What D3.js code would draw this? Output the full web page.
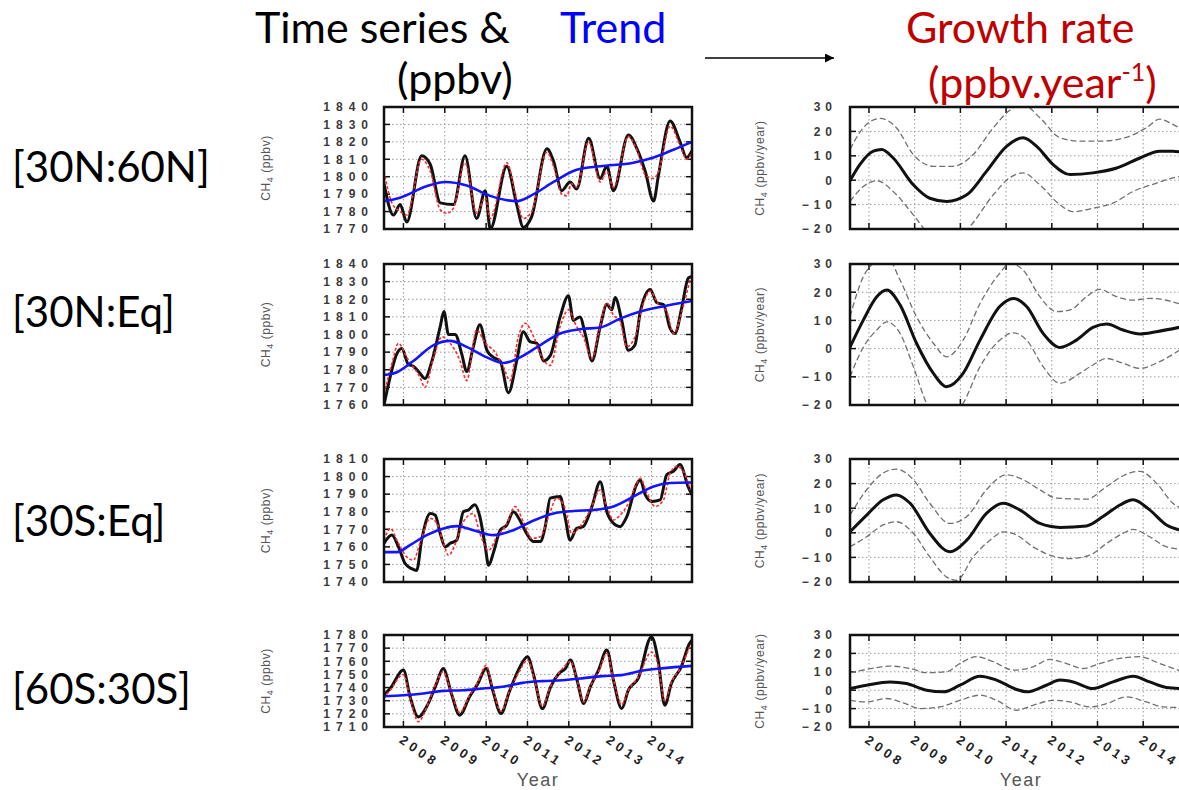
<!DOCTYPE html>
<meta charset="utf-8" />
<html>
<head>
<script src="https://d3js.org/d3.v7.min.js"></script>
<style>
  body { margin: 0; background: white; }
  svg { display: block; }
</style>
</head>
<body>
<div id="chart"></div>
<script>
// ---- data ----
const years = [2008, 2009, 2010, 2011, 2012, 2013, 2014];
const regions = ["[30N:60N]", "[30N:Eq]", "[30S:Eq]", "[60S:30S]"];
const tsDomains = [[1770, 1840], [1760, 1840], [1740, 1810], [1710, 1780]];
const grDomain = [-20, 30];
const grTicks = [-20, -10, 0, 10, 20, 30];

// [30N:60N]
const nhMidObs = [[2007.53,1796],[2007.76,1778],[2007.92,1784],[2008.08,1774],[2008.44,1812],[2008.65,1807],[2008.89,1785],[2009.21,1784],[2009.49,1812],[2009.77,1776],[2009.98,1792],[2010.10,1770],[2010.50,1806],[2010.74,1784],[2010.90,1771],[2011.10,1777],[2011.47,1816],[2011.63,1809],[2011.83,1792],[2012.03,1797],[2012.19,1793],[2012.48,1822],[2012.76,1799],[2012.92,1806],[2013.08,1792],[2013.44,1824],[2013.65,1816],[2013.85,1803],[2014.05,1786],[2014.17,1801],[2014.45,1832],[2014.69,1820],[2014.85,1811],[2014.98,1815]];
const nhMidMod = [[2007.53,1803],[2007.72,1785],[2007.92,1780],[2008.08,1778],[2008.44,1810],[2008.65,1803],[2008.89,1781],[2009.05,1779],[2009.21,1782],[2009.49,1808],[2009.77,1779],[2009.98,1788],[2010.10,1776],[2010.50,1808],[2010.74,1787],[2010.90,1776],[2011.10,1780],[2011.47,1814],[2011.63,1806],[2011.83,1790],[2011.95,1789],[2012.07,1796],[2012.19,1794],[2012.48,1820],[2012.76,1797],[2012.92,1803],[2013.08,1794],[2013.44,1823],[2013.65,1815],[2013.85,1801],[2014.05,1799],[2014.17,1803],[2014.45,1829],[2014.69,1818],[2014.85,1810],[2014.98,1814]];
const nhMidTrend = [[2007.53,1786],[2007.92,1788],[2008.56,1794.5],[2009.01,1797],[2009.53,1795],[2010.10,1789],[2010.74,1786],[2011.15,1790],[2011.63,1797],[2012.19,1804],[2012.76,1806],[2013.56,1808],[2014.05,1811],[2014.53,1815.5],[2014.98,1820]];

// [30N:Eq]
const nhTropObs = [[2007.53,1760],[2007.64,1772],[2007.84,1789],[2007.96,1792],[2008.12,1783],[2008.24,1782],[2008.40,1778],[2008.52,1775],[2008.69,1785],[2008.89,1804.5],[2008.98,1813],[2009.09,1800],[2009.25,1800],[2009.41,1789],[2009.53,1779],[2009.69,1793],[2009.85,1805.5],[2010.02,1791],[2010.18,1787],[2010.34,1785],[2010.54,1767],[2010.74,1785],[2010.90,1801.6],[2011.06,1796],[2011.23,1795],[2011.39,1785],[2011.55,1788],[2011.79,1810],[2011.99,1822],[2012.11,1808],[2012.27,1810],[2012.40,1800],[2012.56,1785],[2012.76,1804.5],[2012.92,1817],[2013.04,1814],[2013.12,1821],[2013.28,1808],[2013.44,1791],[2013.60,1794],[2013.73,1813],[2013.97,1825.6],[2014.13,1818],[2014.29,1817],[2014.45,1803.5],[2014.57,1800.6],[2014.73,1815],[2014.89,1832],[2014.98,1833]];
const nhTropMod = [[2007.53,1766],[2007.72,1783.4],[2007.88,1795],[2008.08,1787],[2008.40,1775.7],[2008.52,1770],[2008.73,1787],[2008.93,1798.7],[2009.13,1795],[2009.37,1785],[2009.53,1773.8],[2009.77,1802.6],[2009.98,1795],[2010.18,1791],[2010.42,1781.5],[2010.58,1773.8],[2010.78,1798.7],[2010.94,1806.4],[2011.15,1798.7],[2011.31,1789],[2011.55,1782.4],[2011.79,1804.5],[2011.99,1814],[2012.19,1804.5],[2012.35,1798.7],[2012.56,1786.3],[2012.72,1800.6],[2012.92,1818],[2013.08,1811],[2013.24,1807.4],[2013.40,1793],[2013.60,1798.7],[2013.81,1818],[2013.97,1824.6],[2014.17,1817],[2014.37,1813],[2014.53,1800.6],[2014.77,1816],[2014.94,1832]];
const nhTropTrend = [[2007.53,1777],[2007.84,1778.6],[2008.24,1785],[2008.73,1794],[2009.13,1796.4],[2009.53,1793],[2010.02,1787],[2010.42,1783.8],[2010.82,1787],[2011.31,1794],[2011.79,1800.6],[2012.27,1803],[2012.76,1804],[2013.24,1809],[2013.73,1813],[2014.21,1815.6],[2014.98,1819]];

// [30S:Eq]
const shTropObs = [[2007.53,1762],[2007.72,1766.7],[2007.88,1760],[2008.04,1750.5],[2008.20,1747.6],[2008.32,1746.6],[2008.44,1763.8],[2008.65,1779],[2008.77,1778],[2008.89,1767.6],[2009.01,1760],[2009.13,1762],[2009.29,1763.8],[2009.45,1780],[2009.57,1781],[2009.73,1784],[2009.85,1777],[2009.98,1760],[2010.06,1749.5],[2010.18,1757],[2010.34,1769.5],[2010.50,1772.4],[2010.66,1780],[2010.82,1775],[2010.98,1767.6],[2011.15,1763],[2011.31,1763],[2011.43,1771.5],[2011.55,1787.7],[2011.79,1788.6],[2011.91,1777],[2012.03,1763.8],[2012.19,1770.5],[2012.35,1771.5],[2012.56,1783],[2012.76,1797],[2012.92,1780],[2013.08,1773.4],[2013.24,1771.5],[2013.40,1777],[2013.65,1796],[2013.73,1798],[2013.85,1789.6],[2014.01,1785.8],[2014.21,1786.7],[2014.37,1801],[2014.53,1803],[2014.69,1806.8],[2014.89,1794],[2014.98,1789.6]];
const shTropMod = [[2007.53,1763.8],[2007.69,1770.5],[2007.84,1763.8],[2008.08,1754.3],[2008.24,1752.4],[2008.40,1762],[2008.65,1776.2],[2008.81,1773.4],[2008.97,1762],[2009.09,1755.2],[2009.29,1763.8],[2009.45,1774.3],[2009.69,1779],[2009.85,1767.6],[2010.06,1758],[2010.26,1765.7],[2010.50,1773.4],[2010.70,1783],[2010.90,1774.3],[2011.10,1764.8],[2011.31,1765.7],[2011.51,1777.2],[2011.71,1787.7],[2011.91,1782],[2012.07,1767.6],[2012.27,1771.5],[2012.52,1781],[2012.76,1792.4],[2012.92,1783],[2013.08,1775.3],[2013.24,1778],[2013.40,1783],[2013.65,1796.3],[2013.73,1799],[2013.89,1790.5],[2014.09,1783],[2014.29,1786.7],[2014.45,1802],[2014.61,1805.8],[2014.77,1803],[2014.94,1792.4]];
const shTropTrend = [[2007.53,1757],[2007.84,1757],[2008.16,1761],[2008.56,1766.7],[2008.97,1770.5],[2009.29,1771.8],[2009.69,1769.5],[2010.18,1766.7],[2010.66,1769.5],[2011.15,1775],[2011.63,1779],[2012.11,1780.4],[2012.60,1781],[2013.08,1783],[2013.56,1788.6],[2014.05,1794.4],[2014.45,1796.3],[2014.98,1796.6]];

// [60S:30S]
const shMidObs = [[2007.52,1734.2],[2007.68,1739.3],[2008.00,1753.3],[2008.16,1733],[2008.36,1717.7],[2008.60,1727.8],[2008.80,1743],[2008.96,1754.6],[2009.16,1735.5],[2009.36,1719],[2009.60,1733],[2009.80,1743],[2010.00,1754.6],[2010.16,1738],[2010.36,1720.2],[2010.56,1736.7],[2010.80,1754.6],[2011.00,1763.5],[2011.16,1748.2],[2011.36,1724],[2011.56,1740.6],[2011.76,1750.7],[2011.92,1754.6],[2012.04,1761],[2012.20,1745.6],[2012.36,1727.8],[2012.52,1740.6],[2012.72,1753.3],[2012.92,1768.5],[2013.08,1745.6],[2013.28,1724],[2013.44,1738],[2013.68,1747],[2014.00,1778.7],[2014.16,1761],[2014.32,1726.6],[2014.48,1743],[2014.72,1755.8],[2014.92,1773.6],[2014.98,1776]];
const shMidMod = [[2007.52,1732],[2007.68,1738],[2008.00,1750],[2008.16,1732],[2008.36,1714],[2008.60,1728],[2008.80,1744],[2008.96,1752],[2009.16,1736],[2009.36,1721],[2009.60,1734],[2009.80,1744],[2010.00,1757],[2010.16,1739],[2010.36,1722],[2010.56,1737],[2010.80,1752],[2011.00,1761],[2011.16,1747],[2011.36,1726],[2011.56,1741],[2011.76,1751],[2011.92,1757],[2012.04,1760],[2012.20,1746],[2012.36,1729],[2012.52,1741],[2012.72,1752],[2012.92,1766],[2013.08,1746],[2013.28,1727],[2013.44,1738],[2013.68,1748],[2014.00,1767],[2014.16,1757],[2014.32,1730],[2014.48,1744],[2014.72,1756],[2014.92,1771]];
const shMidTrend = [[2007.52,1733.4],[2008.00,1734.2],[2008.48,1735.5],[2008.96,1737.5],[2009.44,1738],[2009.92,1739.3],[2010.40,1740.6],[2010.88,1743.6],[2011.36,1744.9],[2011.84,1745.6],[2012.32,1747],[2012.80,1748.7],[2013.28,1749.5],[2013.76,1752.8],[2014.24,1754.6],[2014.98,1756.5]];

// growth rates (ppbv/year): central estimate, upper and lower bounds
const grNhMid = [[2007.585,-0.2],[2007.80,6.4],[2008.095,11.9],[2008.28,12.6],[2008.53,9.1],[2008.97,-1.9],[2009.33,-7.4],[2009.70,-8.7],[2010.14,-6],[2010.57,3.6],[2011.01,13.9],[2011.37,17.4],[2011.67,13.9],[2012.03,6.4],[2012.40,2.3],[2012.90,3],[2013.42,5],[2013.93,9.1],[2014.36,11.9],[2014.65,11.9],[2014.98,11]];
const grNhMidHi = [[2007.585,12.6],[2007.876,21.5],[2008.24,25.3],[2008.60,21.5],[2008.97,10.5],[2009.41,5.7],[2009.84,5.7],[2010.28,10.5],[2010.72,21.5],[2011.16,29.7],[2011.37,31],[2011.74,25.6],[2012.18,17.4],[2012.61,16],[2013.05,16],[2013.63,17.6],[2014.07,21.5],[2014.36,25],[2014.65,22.9],[2014.98,19]];
const grNhMidLo = [[2007.585,-8.7],[2007.876,-2.6],[2008.17,-0.2],[2008.53,-4.6],[2008.97,-14.2],[2009.33,-22.5],[2009.70,-26],[2010.06,-22],[2010.21,-19],[2010.72,-6],[2011.08,1],[2011.37,3],[2011.74,-1.9],[2012.18,-10.1],[2012.47,-12.9],[2012.90,-11.5],[2013.34,-9.4],[2013.78,-4.6],[2014.29,-1.2],[2014.65,1],[2014.98,2]];

const grNhTrop = [[2007.585,0.5],[2007.876,10.1],[2008.17,18.4],[2008.39,20.8],[2008.68,15.5],[2009.04,1.9],[2009.41,-8.8],[2009.70,-13.5],[2010.06,-8.8],[2010.43,3],[2010.86,14.9],[2011.16,17.8],[2011.45,14.9],[2011.81,5.4],[2012.18,0.4],[2012.54,3],[2012.90,7.5],[2013.20,8.7],[2013.56,6.6],[2013.93,5.2],[2014.29,6],[2014.98,8.2]];
const grNhTropHi = [[2007.585,11.3],[2007.876,25.5],[2008.095,30.2],[2008.39,32.6],[2008.68,24.3],[2009.04,11.3],[2009.41,1.9],[2009.70,-2.9],[2010.06,3],[2010.43,16],[2010.86,26.7],[2011.08,30.2],[2011.37,27.9],[2011.74,18.4],[2012.10,13.1],[2012.40,13.7],[2012.76,18.4],[2013.05,21],[2013.42,18.4],[2013.78,17.2],[2014.14,17.8],[2014.98,15]];
const grNhTropLo = [[2007.585,-10],[2007.876,0.5],[2008.17,6.6],[2008.39,9.5],[2008.68,5.4],[2008.97,-6.4],[2009.26,-19.4],[2009.55,-26.5],[2010.06,-19.4],[2010.43,-6.4],[2010.86,3],[2011.16,5.6],[2011.45,3],[2011.81,-6.4],[2012.18,-12.3],[2012.61,-8.8],[2012.90,-5.8],[2013.20,-3.5],[2013.56,-5.2],[2013.93,-7],[2014.36,-4.6],[2014.98,1.5]];

const grShTrop = [[2007.585,0.4],[2007.95,7.2],[2008.31,13.4],[2008.60,15.4],[2008.90,12],[2009.33,-0.2],[2009.77,-7.7],[2010.14,-3],[2010.57,7.9],[2010.94,12],[2011.30,9.3],[2011.74,3.8],[2012.18,2.2],[2012.76,2.8],[2013.12,6.6],[2013.49,11.3],[2013.78,13.4],[2014.14,9.3],[2014.51,3.2],[2014.98,0.5]];
const grShTropHi = [[2007.585,7.2],[2007.95,17.5],[2008.31,24.3],[2008.60,25.9],[2008.97,21.6],[2009.33,12],[2009.77,3.8],[2010.14,6.6],[2010.57,17.5],[2011.01,23.6],[2011.37,21.6],[2011.74,17.5],[2012.10,14.1],[2012.76,13.7],[2013.20,18.8],[2013.56,23.2],[2013.93,25],[2014.29,20.2],[2014.65,12],[2014.98,9]];
const grShTropLo = [[2007.585,-5.7],[2007.95,-1.6],[2008.31,3.2],[2008.60,4.5],[2008.97,-0.2],[2009.33,-9.8],[2009.70,-18],[2009.92,-19.3],[2010.28,-9.8],[2010.65,-3],[2010.94,0.4],[2011.23,-0.9],[2011.59,-5.7],[2011.96,-9.1],[2012.40,-10.5],[2012.83,-9.1],[2013.20,-4.3],[2013.56,-0.2],[2013.78,1.4],[2014.14,-1.6],[2014.51,-5.7],[2014.98,-7]];

const grShMid = [[2007.585,0.9],[2007.95,2.7],[2008.46,4.5],[2008.82,3.6],[2009.26,0],[2009.63,-0.9],[2009.99,2.7],[2010.43,7.6],[2010.79,5.5],[2011.23,0.4],[2011.45,-0.9],[2011.88,2.7],[2012.18,5.5],[2012.47,4.5],[2012.90,0.9],[2013.34,4.5],[2013.78,7.6],[2014.14,4.5],[2014.51,1.5],[2014.98,0.8]];
const grShMidHi = [[2007.585,9.5],[2007.95,11.3],[2008.46,13.1],[2008.90,11.8],[2009.26,9.5],[2009.70,10],[2009.99,14.5],[2010.35,18.2],[2010.72,15.5],[2011.16,10.9],[2011.59,12.7],[2011.96,16.7],[2012.32,14.5],[2012.69,11.8],[2013.05,14.5],[2013.49,17.3],[2013.93,18.2],[2014.36,14.5],[2014.98,9]];
const grShMidLo = [[2007.585,-5.5],[2007.95,-6.4],[2008.39,-4.5],[2008.75,-6.9],[2009.12,-10],[2009.55,-9.1],[2009.99,-5.5],[2010.43,-2.7],[2010.79,-5.5],[2011.23,-10.9],[2011.59,-8.2],[2012.03,-5.5],[2012.40,-6.4],[2012.83,-9.1],[2013.20,-7.3],[2013.63,-3.6],[2014.07,-6.4],[2014.44,-9.1],[2014.98,-9.5]];

const tsSeries = [
  [nhMidObs, nhMidMod, nhMidTrend],
  [nhTropObs, nhTropMod, nhTropTrend],
  [shTropObs, shTropMod, shTropTrend],
  [shMidObs, shMidMod, shMidTrend]
];
const grSeries = [
  [grNhMid, grNhMidHi, grNhMidLo],
  [grNhTrop, grNhTropHi, grNhTropLo],
  [grShTrop, grShTropHi, grShTropLo],
  [grShMid, grShMidHi, grShMidLo]
];

// ---- layout ----
const width = 1179, height = 790;
const tsX = [384, 692], grX = [850, 1188];
const tsXDomain = [2007.53, 2014.98], grXDomain = [2007.585, 2014.98];
const rowsY = [[107, 229], [264, 405], [459, 582], [635, 727]];
const labelBase = [182, 327, 536, 704];
const bigFont = "Lato, 'Noto Sans', sans-serif";
const headSize = "43px";
const labelSize = "42px";
const smallFont = "'Liberation Sans', Arial, sans-serif";

const svg = d3.select("#chart").append("svg")
  .attr("width", width)
  .attr("height", height)
  .style("background", "white");

const defs = svg.append("defs");

// header
const header = (x, y, color, txt) => svg.append("text").attr("x", x).attr("y", y)
  .style("font-family", bigFont).style("font-size", headSize).attr("fill", color)
  .text(txt);
header(255, 43, "black", "Time series &");
header(560, 43, "#0000ff", "Trend");
header(397, 94, "black", "(ppbv)");
header(906, 43, "#c00000", "Growth rate");
const gr = svg.append("text").attr("x", 928).attr("y", 98)
  .style("font-family", bigFont).style("font-size", headSize).attr("fill", "#c00000");
gr.append("tspan").text("(ppbv.year");
gr.append("tspan").attr("dy", -17).style("font-size", "25px").text("-1");
gr.append("tspan").attr("dy", 17).text(")");

defs.append("marker").attr("id", "arrow")
  .attr("viewBox", "0 0 10 10").attr("refX", 10).attr("refY", 5)
  .attr("markerWidth", 9).attr("markerHeight", 9).attr("markerUnits", "userSpaceOnUse")
  .attr("orient", "auto")
  .append("path").attr("d", "M0,0L10,5L0,10Z").attr("fill", "black");
svg.append("line").attr("x1", 705).attr("x2", 834).attr("y1", 58).attr("y2", 58)
  .attr("stroke", "black").attr("stroke-width", 1.6).attr("marker-end", "url(#arrow)");

// region labels
svg.selectAll(".region").data(regions).join("text")
  .attr("class", "region")
  .attr("x", 12).attr("y", (d, i) => labelBase[i])
  .style("font-family", bigFont).style("font-size", labelSize)
  .text(d => d);

function yTitle(g, cx, cy, unit) {
  const t = g.append("text")
    .attr("transform", `translate(${cx},${cy}) rotate(-90)`)
    .attr("text-anchor", "middle")
    .style("font-family", smallFont).style("font-size", "12px")
    .style("letter-spacing", "0.6px")
    .attr("fill", "#555");
  t.append("tspan").text("CH");
  t.append("tspan").attr("dy", 3).style("font-size", "9px").text("4");
  t.append("tspan").attr("dy", -3).text(" (" + unit + ")");
}

function panel(i, xr, xDomain, yDomain, yTickVals, opts) {
  const [y0, y1] = rowsY[i];
  const x = d3.scaleLinear().domain(xDomain).range(xr);
  const y = d3.scaleLinear().domain(yDomain).range([y1, y0]);
  const g = svg.append("g");
  const clipId = `clip-${opts.key}-${i}`;
  defs.append("clipPath").attr("id", clipId)
    .append("rect").attr("x", xr[0]).attr("y", y0)
    .attr("width", xr[1] - xr[0]).attr("height", y1 - y0);

  // dotted grid
  const grid = g.append("g").attr("clip-path", `url(#${clipId})`)
    .attr("stroke", "#9a9a9a").attr("stroke-width", 1).attr("stroke-dasharray", "1.5,2.5");
  grid.selectAll(".gx").data(years).join("line")
    .attr("x1", d => x(d)).attr("x2", d => x(d)).attr("y1", y0).attr("y2", y1);
  grid.selectAll(".gy").data(yTickVals.slice(1, -1)).join("line")
    .attr("x1", xr[0]).attr("x2", xr[1]).attr("y1", d => y(d)).attr("y2", d => y(d));

  // inward tick marks
  const tk = g.append("g").attr("stroke", "#111").attr("stroke-width", 1.5)
    .attr("clip-path", `url(#${clipId})`);
  tk.selectAll(".tb").data(years).join("line")
    .attr("x1", d => x(d)).attr("x2", d => x(d)).attr("y1", y1).attr("y2", y1 - 6);
  tk.selectAll(".tt").data(years).join("line")
    .attr("x1", d => x(d)).attr("x2", d => x(d)).attr("y1", y0).attr("y2", y0 + 6);
  tk.selectAll(".tl").data(yTickVals).join("line")
    .attr("x1", xr[0]).attr("x2", xr[0] + 6).attr("y1", d => y(d)).attr("y2", d => y(d));
  tk.selectAll(".tr").data(yTickVals).join("line")
    .attr("x1", xr[1]).attr("x2", xr[1] - 6).attr("y1", d => y(d)).attr("y2", d => y(d));

  // y tick labels
  const yAxis = d3.axisLeft(y).tickValues(yTickVals).tickSize(0).tickPadding(opts.pad)
    .tickFormat(d3.format("d"));
  g.append("g").attr("transform", `translate(${xr[0]},0)`).call(yAxis)
    .call(a => a.select(".domain").remove())
    .selectAll("text")
    .style("font-family", smallFont).style("font-size", "12px").style("font-weight", "bold")
    .style("letter-spacing", opts.ls + "px")
    .attr("fill", "#3a3a3a");

  // series
  const line = d3.line().x(d => x(d[0])).y(d => y(d[1])).curve(d3.curveMonotoneX);
  const plot = g.append("g").attr("clip-path", `url(#${clipId})`);
  opts.series.forEach(s => {
    plot.append("path").datum(s.data).attr("d", line)
      .attr("fill", "none").attr("stroke", s.color).attr("stroke-width", s.w)
      .attr("stroke-dasharray", s.dash || null)
      .attr("stroke-linejoin", "round");
  });

  // frame
  g.append("rect").attr("x", xr[0]).attr("y", y0)
    .attr("width", xr[1] - xr[0]).attr("height", y1 - y0)
    .attr("fill", "none").attr("stroke", "#111").attr("stroke-width", 2.5);

  yTitle(g, opts.titleX, (y0 + y1) / 2, opts.unit);

  // x labels on the bottom row
  if (i === 3) {
    g.selectAll(".xl").data(years).join("text")
      .attr("transform", d => `translate(${x(d) - 5},${y1 + 15}) rotate(35)`)
      .style("font-family", smallFont).style("font-size", "13px").style("font-weight", "bold")
      .style("letter-spacing", "4px")
      .attr("fill", "#222")
      .text(d => d);
    g.append("text")
      .attr("x", opts.yearX).attr("y", 786)
      .attr("text-anchor", "middle")
      .style("font-family", smallFont).style("font-size", "18px").style("letter-spacing", "1.5px")
      .attr("fill", "#555").text("Year");
  }
}

tsDomains.forEach((dom, i) => {
  const ticks = d3.range(dom[0], dom[1] + 1, 10);
  const [obs, mod, trend] = tsSeries[i];
  panel(i, tsX, tsXDomain, dom, ticks, {
    key: "ts", pad: 10, ls: 6, titleX: 270, unit: "ppbv", yearX: 538,
    series: [
      {data: obs, color: "#111", w: 3},
      {data: mod, color: "#ff2a2a", w: 1.6, dash: "3,2"},
      {data: trend, color: "#1414ff", w: 2.6}
    ]
  });
});

grSeries.forEach((s, i) => {
  const [mid, hi, lo] = s;
  panel(i, grX, grXDomain, grDomain, grTicks, {
    key: "gr", pad: 13, ls: 5, titleX: 764, unit: "ppbv/year", yearX: 1021,
    series: [
      {data: hi, color: "#707070", w: 1.3, dash: "6,3"},
      {data: lo, color: "#707070", w: 1.3, dash: "6,3"},
      {data: mid, color: "#111", w: 3}
    ]
  });
});
</script>
</body>
</html>
